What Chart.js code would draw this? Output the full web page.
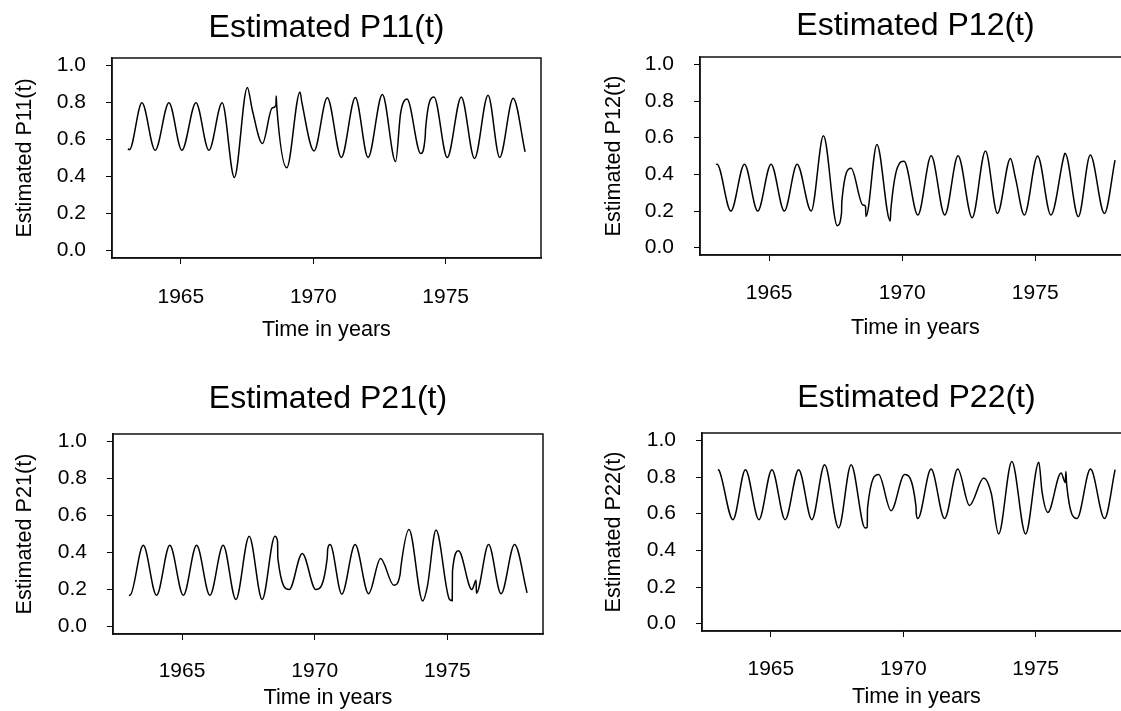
<!DOCTYPE html>
<html><head><meta charset="utf-8">
<script src="https://cdn.jsdelivr.net/npm/chart.js@4.4.1/dist/chart.umd.min.js"></script>
<style>
html,body{margin:0;padding:0;background:#fff;width:1121px;height:711px;overflow:hidden;position:relative}
canvas{position:absolute}
</style></head><body>
<script>
// ---- data ----
const xTicks = [1965, 1970, 1975];
const yTicks = [0, 0.2, 0.4, 0.6, 0.8, 1.0];
const xRange = [1962.4, 1978.6];
const yRange = [-0.04, 1.04];
const xLabel = 'Time in years';
const panelTitles = ['Estimated P11(t)', 'Estimated P12(t)', 'Estimated P21(t)', 'Estimated P22(t)'];
const yLabels = ['Estimated P11(t)', 'Estimated P12(t)', 'Estimated P21(t)', 'Estimated P22(t)'];

const p11Years  = [1963.00,1963.06,1963.53,1964.03,1964.55,1965.04,1965.57,1966.06,1966.56,1967.02,1967.51,1967.70,1968.08,1968.45,1968.59,1968.60,1968.62,1969.00,1969.50,1969.57,1970.03,1970.53,1971.06,1971.59,1972.07,1972.61,1973.11,1973.30,1973.54,1974.06,1974.23,1974.24,1974.56,1975.06,1975.59,1976.09,1976.60,1977.04,1977.55,1978.00];
const p11Values = [0.550,0.545,0.798,0.542,0.798,0.542,0.798,0.542,0.798,0.395,0.881,0.758,0.578,0.770,0.785,0.835,0.780,0.447,0.857,0.800,0.538,0.825,0.503,0.827,0.503,0.843,0.481,0.744,0.818,0.524,0.620,0.655,0.830,0.503,0.830,0.497,0.839,0.503,0.822,0.533];

const p12Years  = [1963.00,1963.04,1963.56,1964.07,1964.57,1965.07,1965.57,1966.05,1966.58,1967.04,1967.56,1967.72,1967.73,1968.08,1968.52,1968.62,1968.64,1969.05,1969.55,1969.57,1970.07,1970.59,1971.09,1971.60,1972.10,1972.63,1973.13,1973.58,1974.07,1974.26,1974.59,1975.09,1975.59,1976.09,1976.12,1976.62,1977.07,1977.60,1978.00];
const p12Values = [0.454,0.455,0.200,0.455,0.200,0.455,0.200,0.455,0.200,0.610,0.120,0.190,0.250,0.433,0.233,0.225,0.170,0.563,0.146,0.200,0.472,0.178,0.501,0.178,0.501,0.163,0.527,0.187,0.487,0.378,0.178,0.500,0.178,0.505,0.515,0.169,0.505,0.187,0.478];

const p21Years  = [1963.00,1963.05,1963.54,1964.04,1964.54,1965.05,1965.55,1966.05,1966.55,1967.03,1967.53,1968.02,1968.50,1968.60,1968.61,1969.04,1969.53,1970.04,1970.47,1970.49,1970.58,1971.02,1971.52,1972.03,1972.48,1972.98,1973.22,1973.24,1973.55,1974.07,1974.24,1974.57,1975.08,1975.18,1975.19,1975.42,1975.92,1976.08,1976.09,1976.55,1977.02,1977.53,1978.00];
const p21Values = [0.169,0.170,0.439,0.169,0.439,0.169,0.439,0.169,0.439,0.146,0.488,0.146,0.488,0.460,0.370,0.200,0.395,0.200,0.370,0.420,0.443,0.175,0.443,0.178,0.368,0.223,0.285,0.315,0.524,0.138,0.214,0.521,0.146,0.140,0.300,0.409,0.200,0.250,0.180,0.443,0.178,0.443,0.182];

const p22Years  = [1963.00,1963.05,1963.57,1964.04,1964.55,1965.04,1965.54,1966.05,1966.55,1967.03,1967.56,1968.03,1968.56,1968.64,1968.65,1969.07,1969.54,1970.05,1970.48,1970.49,1970.55,1971.05,1971.56,1972.06,1972.50,1973.04,1973.32,1973.60,1974.10,1974.62,1975.12,1975.24,1975.46,1975.96,1976.12,1976.14,1976.17,1976.56,1977.07,1977.60,1978.00];
const p22Values = [0.840,0.835,0.567,0.840,0.567,0.840,0.567,0.840,0.567,0.867,0.522,0.867,0.522,0.525,0.630,0.813,0.616,0.813,0.640,0.600,0.573,0.843,0.573,0.843,0.645,0.794,0.713,0.489,0.885,0.489,0.880,0.720,0.607,0.822,0.770,0.830,0.760,0.573,0.843,0.573,0.840];

const seriesYears  = [p11Years, p12Years, p21Years, p22Years];
const seriesValues = [p11Values, p12Values, p21Values, p22Values];

// ---- layout (pixel geometry of each panel) ----
const layoutGeom = [
  {plot:[112,541,58,258], titleY:27.7, xTickY:297, xTitleY:330, yTitleX:25},
  {plot:[700,1131,57,255], titleY:25.7, xTickY:293, xTitleY:328, yTitleX:614},
  {plot:[113,543,434,634], titleY:399, xTickY:671.7, xTitleY:698.3, yTitleX:25},
  {plot:[702,1131,433,631], titleY:398.3, xTickY:669, xTitleY:696.7, yTitleX:614}
];

const FONT = "'Liberation Sans', Arial, Helvetica, sans-serif";
const boxPlugin = {
  id: 'box',
  afterDatasetsDraw(chart) {
    const {ctx, chartArea: a} = chart;
    ctx.save();
    ctx.strokeStyle = '#111';
    ctx.lineWidth = 1.5;
    ctx.strokeRect(a.left, a.top, a.right - a.left, a.bottom - a.top);
    ctx.restore();
  }
};

function build(i) {
  const g = layoutGeom[i];
  const YW = 111, RP = 10, TFS = 32, TLH = TFS * 1.2, FS = 21, LH = FS * 1.2, AFS = 21.6, ALH = AFS * 1.2, TL = 6;
  const [L, R, T, B] = g.plot;
  const cx = L - YW;
  const cy = Math.round(g.titleY - 25);
  const cw = R - cx + RP;
  const ch = Math.round(g.xTitleY + 17 - cy);
  const XH = cy + ch - B;
  const tPadTop = g.titleY - cy - TLH / 2;
  const tPadBottom = (T - cy) - tPadTop - TLH;
  const xTitlePadBottom = cy + ch - ALH / 2 - g.xTitleY;
  const yTitlePadTop = g.yTitleX - cx - ALH / 2;
  const xTickPad = g.xTickY - B - TL - LH / 2;

  const c = document.createElement('canvas');
  c.width = cw; c.height = ch;
  c.style.left = cx + 'px'; c.style.top = cy + 'px';
  c.style.width = cw + 'px'; c.style.height = ch + 'px';
  document.body.appendChild(c);

  const pts = seriesYears[i].map((x, k) => ({x: x, y: seriesValues[i][k]}));

  new Chart(c, {
    type: 'line',
    data: { datasets: [{
      data: pts, borderColor: '#000', borderWidth: 1.5, pointRadius: 0,
      fill: false, cubicInterpolationMode: 'monotone'
    }]},
    options: {
      responsive: false, animation: false, devicePixelRatio: 1,
      layout: { padding: {left: 0, right: RP, top: 0, bottom: 0} },
      plugins: {
        legend: {display: false}, tooltip: {enabled: false},
        title: {
          display: true, text: panelTitles[i], fullSize: false, color: '#000',
          font: {family: FONT, size: TFS, weight: 'normal', lineHeight: 1.2},
          padding: {top: tPadTop, bottom: tPadBottom}
        }
      },
      scales: {
        x: {
          type: 'linear', position: 'bottom', min: xRange[0], max: xRange[1],
          afterBuildTicks: s => { s.ticks = xTicks.map(v => ({value: v})); },
          afterFit: s => { s.height = XH; },
          grid: {drawOnChartArea: false, drawTicks: true, tickLength: TL, color: '#000', lineWidth: 1},
          border: {display: true, color: '#111', width: 1.5},
          ticks: {color: '#000', padding: xTickPad, maxRotation: 0, autoSkip: false,
                  font: {family: FONT, size: FS, lineHeight: 1.2}, callback: v => String(v)},
          title: {display: true, text: xLabel, color: '#000',
                  font: {family: FONT, size: AFS, lineHeight: 1.2},
                  padding: {top: 0, bottom: xTitlePadBottom}}
        },
        y: {
          type: 'linear', position: 'left', min: yRange[0], max: yRange[1],
          afterBuildTicks: s => { s.ticks = yTicks.map(v => ({value: v})); },
          afterFit: s => { s.width = YW; },
          grid: {drawOnChartArea: false, drawTicks: true, tickLength: TL, color: '#000', lineWidth: 1},
          border: {display: true, color: '#111', width: 1.5},
          ticks: {color: '#000', padding: 26 - TL, autoSkip: false,
                  font: {family: FONT, size: FS, lineHeight: 1.2}, callback: v => v.toFixed(1)},
          title: {display: true, text: yLabels[i], color: '#000',
                  font: {family: FONT, size: AFS, lineHeight: 1.2},
                  padding: {top: yTitlePadTop, bottom: 0}}
        }
      }
    },
    plugins: [boxPlugin]
  });
}
for (let i = 0; i < 4; i++) build(i);
</script>
</body></html>
